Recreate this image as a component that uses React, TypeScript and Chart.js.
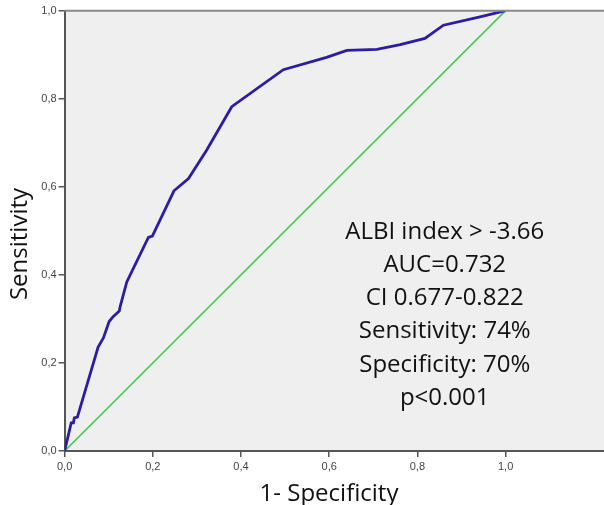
import React, { useEffect, useRef } from "react";
import { Chart, registerables } from "chart.js";

Chart.register(...registerables);

// ROC curve points (1 - specificity, sensitivity)
const rocFpr = [0, 0.015, 0.02, 0.022, 0.029, 0.076, 0.088, 0.101, 0.11, 0.124, 0.126, 0.141, 0.19, 0.199, 0.248, 0.281, 0.322, 0.379, 0.496, 0.594, 0.64, 0.708, 0.761, 0.817, 0.859, 0.942, 1.0];
const rocTpr = [0, 0.064, 0.064, 0.075, 0.077, 0.236, 0.257, 0.294, 0.305, 0.318, 0.328, 0.384, 0.485, 0.488, 0.591, 0.619, 0.683, 0.782, 0.866, 0.894, 0.91, 0.912, 0.923, 0.937, 0.967, 0.986, 1.0];
// reference diagonal
const refX = [0, 1];
const refY = [0, 1];

const xTitle = "1- Specificity";
const yTitle = "Sensitivity";
const annotationLines = [
  "ALBI index > -3.66",
  "AUC=0.732",
  "CI 0.677-0.822",
  "Sensitivity: 74%",
  "Specificity: 70%",
  "p<0.001",
];

const fmt = (v: number) => v.toFixed(1).replace(".", ",");

const W = 604;
const H = 505;
const LEFT = 64.6;
const TOP = 10.7;
const BOTTOM = 451;
const TEXT_FONT = "'Open Sans', sans-serif";

const decorPlugin = {
  id: "decor",
  beforeDraw(chart: any) {
    const { ctx, chartArea } = chart;
    ctx.save();
    ctx.fillStyle = "#efefef";
    ctx.fillRect(chartArea.left, chartArea.top, chartArea.right - chartArea.left, chartArea.bottom - chartArea.top);
    ctx.restore();
  },
  afterDraw(chart: any) {
    const { ctx, chartArea, scales } = chart;
    ctx.save();
    // top border
    ctx.strokeStyle = "#8a8a8a";
    ctx.lineWidth = 2;
    ctx.beginPath();
    ctx.moveTo(chartArea.left, chartArea.top);
    ctx.lineTo(chartArea.right, chartArea.top);
    ctx.stroke();

    // annotation text
    ctx.fillStyle = "#111";
    ctx.font = `24px ${TEXT_FONT}`;
    ctx.textAlign = "center";
    ctx.textBaseline = "middle";
    const cx = scales.x.getPixelForValue(0.862);
    const y0 = scales.y.getPixelForValue(0.498);
    const dy = scales.y.getPixelForValue(0) - scales.y.getPixelForValue(0.0756);
    annotationLines.forEach((t, i) => ctx.fillText(t, cx, y0 + i * dy));

    // axis titles
    ctx.font = `24px ${TEXT_FONT}`;
    ctx.textBaseline = "alphabetic";
    ctx.fillText(xTitle, 329, 501);
    ctx.translate(27, 244);
    ctx.rotate(-Math.PI / 2);
    ctx.fillText(yTitle, 0, 0);
    ctx.restore();
  },
};

export default function App() {
  const ref = useRef<HTMLCanvasElement>(null);
  useEffect(() => {
    if (!ref.current) return;
    const chart = new Chart(ref.current, {
      type: "line",
      data: {
        datasets: [
          {
            data: rocFpr.map((x, i) => ({ x, y: rocTpr[i] })),
            borderColor: "#2c1ca6",
            borderWidth: 2.8,
            pointRadius: 0,
            tension: 0,
            fill: false,
          },
          {
            data: refX.map((x, i) => ({ x, y: refY[i] })),
            borderColor: "#4fc85c",
            borderWidth: 1.7,
            pointRadius: 0,
            tension: 0,
            fill: false,
          },
        ],
      },
      options: {
        responsive: false,
        animation: false,
        layout: { padding: { left: 0, top: TOP, right: 0, bottom: 0 } },
        plugins: { legend: { display: false }, tooltip: { enabled: false } },
        scales: {
          x: {
            type: "linear",
            min: 0,
            max: (W - LEFT) / 441,
            afterBuildTicks: (s: any) => {
              s.ticks = [0, 0.2, 0.4, 0.6, 0.8, 1.0].map((v) => ({ value: v }));
            },
            afterFit: (s: any) => {
              s.height = H - BOTTOM;
            },
            ticks: {
              callback: (v: any) => fmt(Number(v)),
              color: "#444",
              font: { family: "'Liberation Sans', Arial, sans-serif", size: 11 },
              padding: 3,
              maxRotation: 0,
              autoSkip: false,
            },
            grid: {
              drawOnChartArea: false,
              drawTicks: true,
              tickLength: 6,
              color: "#555",
              lineWidth: 1.5,
            },
            border: { display: true, color: "#555", width: 2 },
          },
          y: {
            type: "linear",
            min: 0,
            max: 1,
            afterBuildTicks: (s: any) => {
              s.ticks = [0, 0.2, 0.4, 0.6, 0.8, 1.0].map((v) => ({ value: v }));
            },
            afterFit: (s: any) => {
              s.width = LEFT;
            },
            ticks: {
              callback: (v: any) => fmt(Number(v)),
              color: "#444",
              font: { family: "'Liberation Sans', Arial, sans-serif", size: 11 },
              padding: 2,
              autoSkip: false,
            },
            grid: {
              drawOnChartArea: false,
              drawTicks: true,
              tickLength: 6,
              color: "#555",
              lineWidth: 1.5,
            },
            border: { display: true, color: "#555", width: 2 },
          },
        },
      },
      plugins: [decorPlugin],
    });
    return () => chart.destroy();
  }, []);
  return (
    <div style={{ position: "absolute", left: 0, top: 0, width: W, height: H, background: "#fff" }}>
      <canvas ref={ref} width={W} height={H} style={{ display: "block" }} />
    </div>
  );
}
